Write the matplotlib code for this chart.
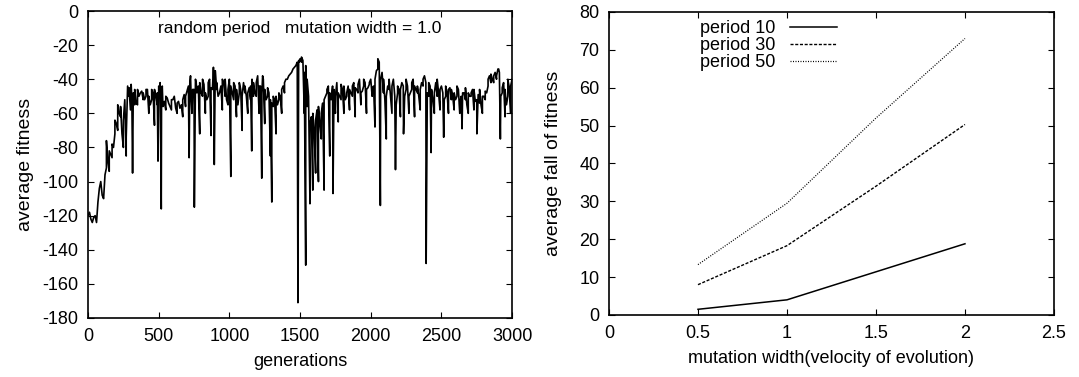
import matplotlib
matplotlib.use("Agg")
import matplotlib.pyplot as plt

plt.rcParams['font.family'] = ['Liberation Sans', 'DejaVu Sans']
plt.rcParams['axes.unicode_minus'] = False

# ---------------- left panel data ----------------
base_gen = list(range(0, 3001, 20))
base_val = [
    -120, -122, -121, -124, -104, -108, -96, -88, -84, -80,
    -66, -60, -72, -52, -44, -58, -48, -54, -50, -47,
    -52, -46, -55, -48, -50, -44, -50, -53, -51, -56,
    -52, -57, -53, -55, -49, -47, -42, -46, -40, -44,
    -48, -43, -52, -40, -46, -35, -50, -44, -42, -52,
    -40, -48, -44, -55, -46, -42, -50, -45, -40, -48,
    -38, -44, -40, -52, -48, -54, -52, -55, -50, -44,
    -40, -38, -36, -33, -30, -28, -29, -32, -50, -62,
    -70, -58, -66, -54, -50, -44, -52, -46, -42, -50,
    -46, -52, -44, -48, -42, -46, -40, -47, -42, -45,
    -40, -44, -35, -30, -36, -52, -44, -50, -40, -55,
    -46, -42, -50, -44, -48, -40, -46, -50, -42, -38,
    -48, -44, -52, -42, -48, -44, -52, -48, -45, -50,
    -52, -46, -50, -48, -55, -50, -46, -53, -49, -55,
    -50, -48, -38, -40, -36, -34, -50, -42, -55, -45,
    -40,
]
fill_gen = list(range(10, 3000, 20))
fill_val = [
    -118, -124, -120, -112, -100, -110, -92, -82, -86, -64,
    -70, -56, -64, -74, -50, -52, -46, -55, -48, -52,
    -46, -50, -52, -46, -55, -48, -56, -50, -54, -58,
    -50, -54, -57, -52, -56, -44, -52, -46, -48, -42,
    -40, -48, -50, -45, -40, -42, -48, -40, -50, -46,
    -44, -52, -46, -42, -50, -44, -48, -52, -42, -50,
    -44, -48, -46, -50, -52, -56, -50, -52, -46, -48,
    -40, -37, -34, -32, -29, -30, -36, -56, -66, -60,
    -64, -56, -60, -52, -46, -48, -44, -50, -48, -52,
    -44, -50, -46, -50, -45, -43, -48, -40, -46, -42,
    -46, -40, -34, -40, -48, -50, -46, -44, -50, -48,
    -46, -44, -46, -50, -46, -44, -48, -46, -44, -42,
    -50, -46, -48, -50, -46, -48, -50, -46, -52, -48,
    -50, -54, -48, -52, -48, -50, -46, -52, -54, -50,
    -52, -44, -42, -38, -40, -36, -48, -46, -50, -44,
]
spike_gen = [
    130, 150, 170, 190, 210, 230, 250, 270, 290, 305, 315, 330, 350, 390, 410,
    430, 450, 470, 490, 495, 510, 518, 525, 550, 590, 630, 670, 690, 715, 725,
    735, 752, 765, 790, 810, 830, 850, 870, 887, 893, 910, 950, 970, 990, 1010,
    1030, 1050, 1070, 1090, 1110, 1130, 1150, 1158, 1170, 1190, 1210, 1229, 1235,
    1250, 1270, 1290, 1300, 1310, 1330, 1350, 1370, 1390, 1485, 1492, 1510, 1530,
    1540, 1550, 1570, 1590, 1610, 1630, 1650, 1670, 1690, 1710, 1733, 1750, 1770,
    1790, 1810, 1830, 1850, 1870, 1890, 1910, 1930, 1950, 1970, 1990, 2010, 2030,
    2050, 2068, 2090, 2110, 2130, 2150, 2175, 2190, 2210, 2232, 2250, 2270, 2290,
    2310, 2330, 2350, 2370, 2392, 2410, 2427, 2450, 2470, 2490, 2516, 2530, 2550,
    2570, 2590, 2610, 2630, 2646, 2670, 2690, 2710, 2730, 2751, 2770, 2790, 2810,
    2830, 2850, 2870, 2890, 2905, 2917, 2930, 2950, 2970, 2990,
]
spike_val = [
    -76, -94, -78, -72, -55, -62, -80, -85, -45, -43, -95, -55, -46, -48, -50,
    -60, -46, -67, -48, -88, -42, -116, -44, -58, -52, -60, -62, -50, -86, -38,
    -60, -115, -42, -72, -50, -60, -42, -73, -33, -90, -46, -58, -40, -55, -97,
    -42, -62, -48, -70, -48, -60, -44, -82, -50, -42, -60, -98, -38,
    -66, -45, -85, -112, -50, -72, -48, -60, -42, -171, -30, -27, -60,
    -149, -40, -113, -105, -95, -100, -75, -105, -48, -85, -107, -60, -65,
    -43, -60, -48, -58, -44, -62, -48, -55, -44, -60, -43, -50, -68,
    -28, -114, -40, -75, -40, -60, -93, -44, -62, -72, -40, -60, -42,
    -62, -44, -58, -40, -148, -42, -83, -60, -40, -58, -74, -44, -60,
    -46, -58, -44, -60, -69, -45, -60, -48, -58, -72, -46, -60, -47,
    -40, -37, -42, -38, -34, -75, -45, -62, -40, -60,
]

# ---------------- right panel data ----------------
mut_width = [0.5, 1.0, 1.5, 2.0]
period10 = [1.5, 4.0, 11.4, 18.8]
period30 = [8.0, 18.3, 34.0, 50.3]
period50 = [13.3, 29.5, 52.0, 73.0]

pairs = sorted(zip(base_gen + fill_gen + spike_gen,
                   base_val + fill_val + spike_val))
gens = [p[0] for p in pairs]
vals = [p[1] for p in pairs]

fig = plt.figure(figsize=(10.79, 3.77), dpi=100)
ax1 = fig.add_axes([0.0816, 0.1565, 0.393, 0.8143])
ax2 = fig.add_axes([0.5644, 0.1645, 0.4124, 0.8037])

FS = 13
for ax in (ax1, ax2):
    ax.tick_params(direction='in', top=True, right=True, length=4, width=0.8,
                   labelsize=FS, pad=7)
    for s in ax.spines.values():
        s.set_linewidth(1.2)

ax1.plot(gens, vals, color='black', lw=1.2)
ax1.set_xlim(0, 3000)
ax1.set_ylim(-180, 0)
ax1.set_xticks(range(0, 3001, 500))
ax1.set_yticks(range(-180, 1, 20))
ax1.set_xlabel('generations', fontsize=FS, labelpad=6)
ax1.set_ylabel('average fitness', fontsize=FS + 1, labelpad=6)
ax1.text(1500, -10, 'random period   mutation width = 1.0', ha='center',
         va='center', fontsize=FS - 0.5)

ax2.plot(mut_width, period10, color='black', lw=1.1, label='period 10')
ax2.plot(mut_width, period30, color='black', lw=1.0, dashes=(2.2, 1.2),
         label='period 30')
ax2.plot(mut_width, period50, color='black', lw=0.9, dashes=(0.8, 1.2),
         label='period 50')
ax2.set_xlim(0, 2.5)
ax2.set_ylim(0, 80)
ax2.set_xticks([0, 0.5, 1, 1.5, 2, 2.5])
ax2.set_xticklabels(['0', '0.5', '1', '1.5', '2', '2.5'])
ax2.set_yticks(range(0, 81, 10))
ax2.set_xlabel('mutation width(velocity of evolution)', fontsize=FS, labelpad=6)
ax2.set_ylabel('average fall of fitness', fontsize=FS + 1, labelpad=12)
ax2.legend(loc='upper left', bbox_to_anchor=(0.18, 1.008), frameon=False,
           markerfirst=False, fontsize=FS, handlelength=2.6,
           labelspacing=0.0, handletextpad=0.8, borderaxespad=0.2)

fig.savefig('out.png', dpi=100)
